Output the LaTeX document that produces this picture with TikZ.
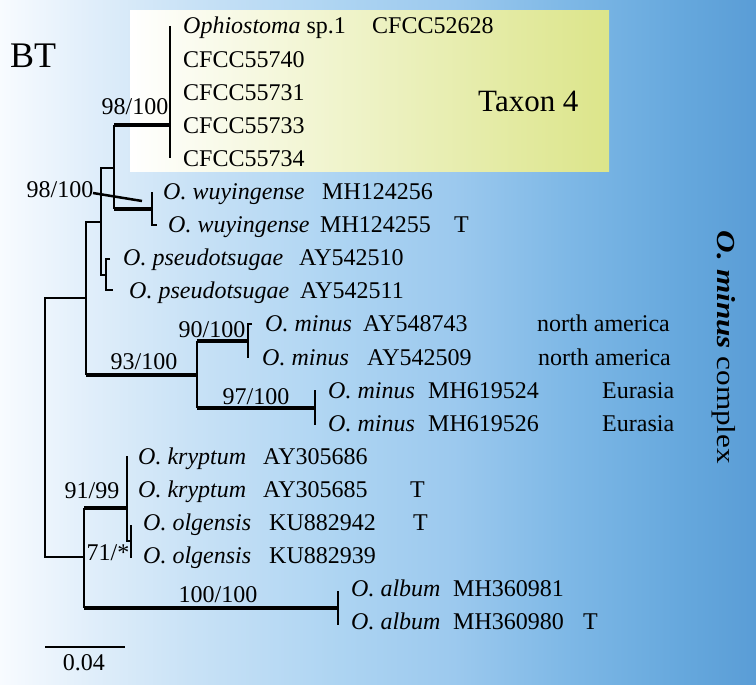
\documentclass[tikz,border=0pt]{standalone}
\usepackage{fontspec}
\setmainfont{Liberation Serif}
\definecolor{bgA}{HTML}{F8FBFF}
\definecolor{bgB}{HTML}{E0EEFA}
\definecolor{bgC}{HTML}{C9E2F6}
\definecolor{bgD}{HTML}{ADD4F2}
\definecolor{bgE}{HTML}{9CC9EE}
\definecolor{bgF}{HTML}{7EB8E6}
\definecolor{bgG}{HTML}{66A8DD}
\definecolor{bgH}{HTML}{5A9DD6}
\definecolor{taxY}{HTML}{DCE58A}
\pgfdeclarehorizontalshading{bgshade}{100bp}{color(0bp)=(bgA); color(25bp)=(bgA); color(31bp)=(bgB); color(37.5bp)=(bgC); color(47.5bp)=(bgD); color(55bp)=(bgE); color(62.5bp)=(bgF); color(70bp)=(bgG); color(75bp)=(bgH); color(100bp)=(bgH)}
\begin{document}
\begin{tikzpicture}[x=1pt,y=-1pt,
  br/.style={line width=1.3pt},
  thk/.style={line width=4pt},
  lbl/.style={font=\fontsize{24}{28}\selectfont, inner sep=0pt, anchor=base west},
  sup/.style={font=\fontsize{24}{28}\selectfont, inner sep=0pt, anchor=base}]
\useasboundingbox (0,0) rectangle (756,685);
\shade[shading=bgshade] (0,0) rectangle (756,685);
\shade[left color=white, right color=taxY] (130,11) rectangle (609,171);

% tree coordinates
\coordinate (root) at (45,298);
\coordinate (nC) at (86,298);
\coordinate (nB) at (101,222);
\coordinate (nA) at (114,168);
\coordinate (nT) at (170,125);
\coordinate (nW) at (152,209);
\coordinate (nP) at (106,275);
\coordinate (nD) at (197,375);
\coordinate (nNA) at (248,341);
\coordinate (nEU) at (315,408);
\coordinate (nE) at (84,557);
\coordinate (nK) at (127,508);
\coordinate (nO) at (131,541);
\coordinate (nAl) at (338,608);

% Taxon 4
\draw[br] (170,26) -- (170,158);
\draw[thk] (nA |- nT) -- (nT);
\draw[br] (114,125) -- (114,209);
\draw[thk] (nA |- nW) -- (nW);
\draw[br] (152,192) -- (152,225) -- (157,225);
% node B
\draw[br] (nA) -- (101,168) -- (101,275) -- (nP);
\draw[br] (110,259) -- (106,259) -- (106,290) -- (113,290);
% node C
\draw[br] (nB) -- (86,222) -- (86,375);
\draw[thk] (86,375) -- (nD);
\draw[br] (nD) -- (197,341);
\draw[br] (nD) -- (197,408);
\draw[thk] (197,341) -- (nNA);
\draw[thk] (197,408) -- (nEU);
\draw[br] (252,324) -- (248,324) -- (248,358);
\draw[br] (315,390) -- (315,425);
% root
\draw[br] (nC) -- (root) -- (45,557) -- (nE);
\draw[br] (84,508) -- (84,608);
\draw[thk] (84,508) -- (nK);
\draw[thk] (84,608) -- (nAl);
\draw[br] (127,456) -- (127,541) -- (nO);
\draw[br] (131,525) -- (131,558);
\draw[br] (338,591) -- (338,625);
% scale bar
\coordinate (sb1) at (45,647);
\coordinate (sb2) at (125,647);
\draw[br] (sb1) -- (sb2);
\node[sup] (sbl) at (84,670) {0.04};

% leader line
\coordinate (ld1) at (93,193);
\coordinate (ld2) at (142,201);
\draw[line width=2.5pt] (ld1) -- (ld2);

% support values
\node[sup] (s1) at (135,115) {98/100};
\node[sup] (s2) at (60,197) {98/100};
\node[sup] (s3) at (212,337) {90/100};
\node[sup] (s4) at (144,369) {93/100};
\node[sup] (s5) at (256,404) {97/100};
\node[sup] (s6) at (92,498) {91/99};
\node[sup] (s7) at (108,560) {71/*};
\node[sup] (s8) at (218,602) {100/100};

% titles
\node[inner sep=0pt, anchor=base west, font=\fontsize{36}{40}\selectfont] (bt) at (10,68) {BT};
\node[inner sep=0pt, anchor=base west, font=\fontsize{31}{34}\selectfont] (tx4) at (478,112) {Taxon 4};
\node[inner sep=0pt, anchor=base, rotate=-90, font=\fontsize{26}{30}\selectfont] (omc) at (717,347.5) {\scalebox{1.2}[1]{\textbf{\textit{O. minus}} complex}};

% tip labels
\node[lbl] (l0) at (183,34) {\textit{Ophiostoma} sp.1};
\node[lbl] (a0) at (372,34) {CFCC52628};
\node[lbl] (l1) at (183,67.1) {CFCC55740};
\node[lbl] (l2) at (183,100.2) {CFCC55731};
\node[lbl] (l3) at (183,133.3) {CFCC55733};
\node[lbl] (l4) at (183,166.4) {CFCC55734};
\node[lbl] (l5) at (163,199.5) {\textit{O. wuyingense}};
\node[lbl] (a5) at (322,199.5) {MH124256};
\node[lbl] (l6) at (168,232.6) {\textit{O. wuyingense}};
\node[lbl] (a6) at (320,232.6) {MH124255};
\node[lbl] (t6) at (454,232.6) {T};
\node[lbl] (l7) at (123,265.7) {\textit{O. pseudotsugae}};
\node[lbl] (a7) at (299,265.7) {AY542510};
\node[lbl] (l8) at (129,298.8) {\textit{O. pseudotsugae}};
\node[lbl] (a8) at (300,298.8) {AY542511};
\node[lbl] (l9) at (265,331.9) {\textit{O. minus}};
\node[lbl] (a9) at (363,331.9) {AY548743};
\node[lbl] (g9) at (537,331.9) {north america};
\node[lbl] (l10) at (262,365) {\textit{O. minus}};
\node[lbl] (a10) at (367,365) {AY542509};
\node[lbl] (g10) at (538,365) {north america};
\node[lbl] (l11) at (328,398.1) {\textit{O. minus}};
\node[lbl] (a11) at (428,398.1) {MH619524};
\node[lbl] (g11) at (602,398.1) {Eurasia};
\node[lbl] (l12) at (328,431.2) {\textit{O. minus}};
\node[lbl] (a12) at (428,431.2) {MH619526};
\node[lbl] (g12) at (602,431.2) {Eurasia};
\node[lbl] (l13) at (138,464.3) {\textit{O. kryptum}};
\node[lbl] (a13) at (263,464.3) {AY305686};
\node[lbl] (l14) at (138,497.4) {\textit{O. kryptum}};
\node[lbl] (a14) at (263,497.4) {AY305685};
\node[lbl] (t14) at (410,497.4) {T};
\node[lbl] (l15) at (143,530.5) {\textit{O. olgensis}};
\node[lbl] (a15) at (269,530.5) {KU882942};
\node[lbl] (t15) at (413,530.5) {T};
\node[lbl] (l16) at (143,563.6) {\textit{O. olgensis}};
\node[lbl] (a16) at (269,563.6) {KU882939};
\node[lbl] (l17) at (351,596.7) {\textit{O. album}};
\node[lbl] (a17) at (453,596.7) {MH360981};
\node[lbl] (l18) at (351,629.8) {\textit{O. album}};
\node[lbl] (a18) at (453,629.8) {MH360980};
\node[lbl] (t18) at (583,629.8) {T};
\end{tikzpicture}
\end{document}
